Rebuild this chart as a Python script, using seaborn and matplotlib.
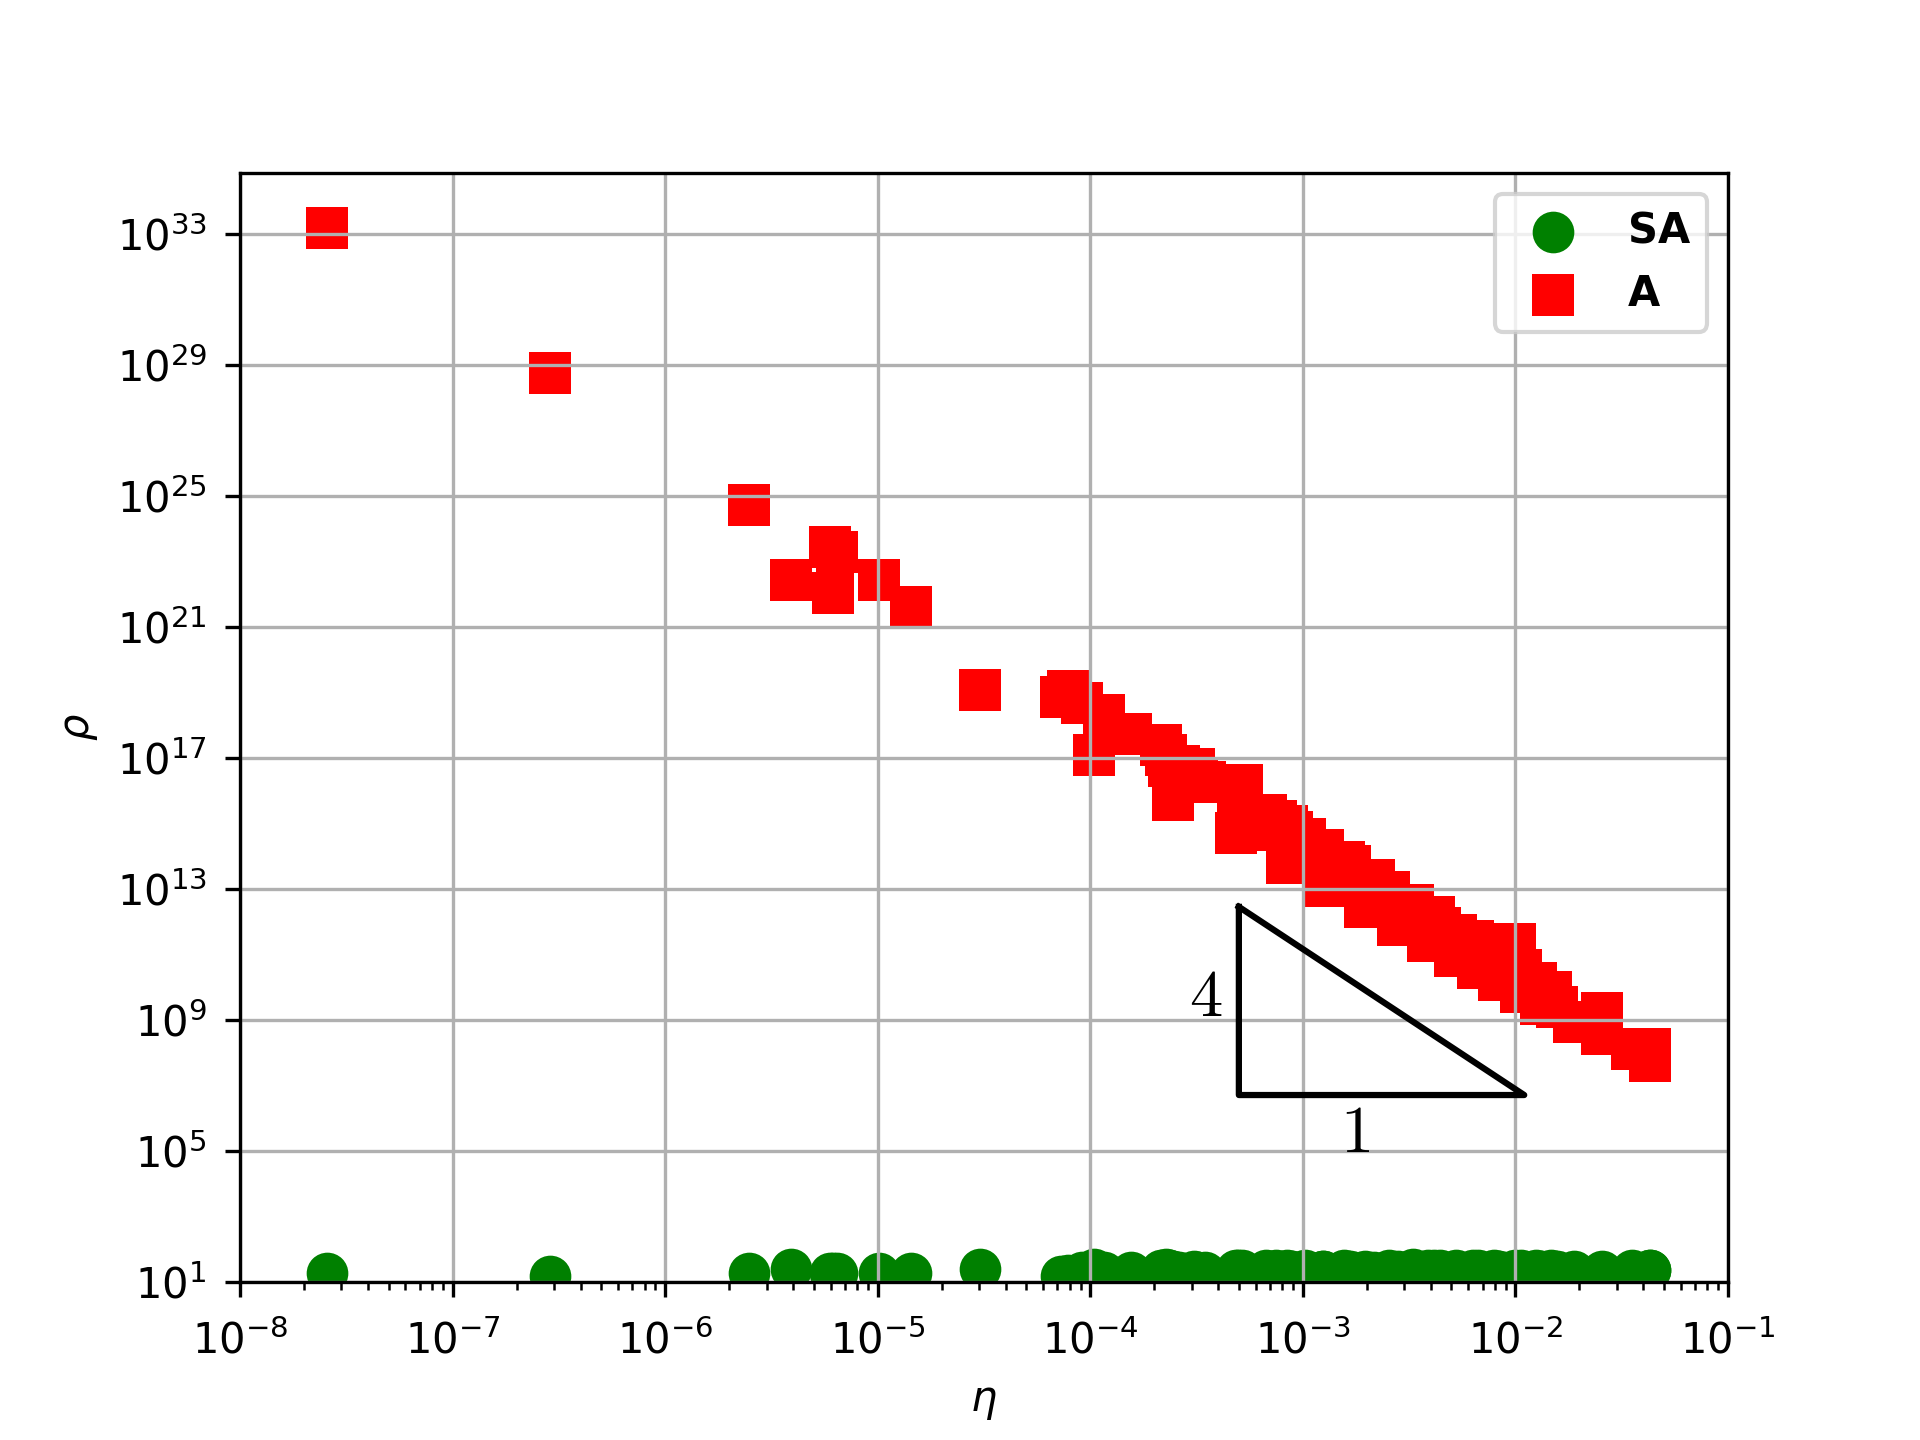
import matplotlib
matplotlib.use("Agg")
import matplotlib.pyplot as plt
import matplotlib.ticker as mticker
import seaborn as sns
import pandas as pd

# eta values (shared by both methods)
eta = [2.57e-8, 2.88e-7, 2.49e-6, 3.92e-6, 5.98e-6, 6.43e-6, 6.17e-6, 1.01e-5, 1.44e-5, 3.04e-5,
       7.31e-5, 7.87e-5, 9.16e-5, 1.04e-4, 1.16e-4, 1.55e-4, 2.14e-4, 2.28e-4, 2.34e-4, 2.45e-4,
       2.61e-4, 3.07e-4, 3.18e-4, 3.48e-4, 4.83e-4, 4.97e-4, 5.15e-4, 6.68e-4, 7.45e-4, 7.59e-4,
       8.39e-4, 8.39e-4, 8.93e-4, 1.02e-3, 1.24e-3, 1.25e-3, 1.56e-3, 1.66e-3, 1.95e-3, 2.15e-3,
       2.55e-3, 2.79e-3, 3.30e-3, 3.86e-3, 4.15e-3, 4.41e-3, 5.19e-3, 5.24e-3, 6.32e-3, 6.70e-3,
       7.94e-3, 8.39e-3, 9.97e-3, 1.06e-2, 1.06e-2, 1.25e-2, 1.32e-2, 1.47e-2, 1.57e-2, 1.89e-2,
       2.55e-2, 2.55e-2, 3.53e-2, 4.30e-2, 4.30e-2]

# rho for method A
rho_A = [1.55e33, 5.6e28, 5.3e24, 2.7e22, 2.8e23, 1.9e23, 1.1e22, 2.7e22, 4.1e21, 1.2e19,
         7.2e18, 1.1e19, 4.7e18, 1.26e17, 2.0e18, 5.5e17, 2.4e17, 1.26e17, 5.5e16, 5.3e15,
         5.5e16, 4.6e16, 2.3e16, 1.8e16, 5.0e14, 9.5e15, 1.5e16, 1.85e15, 1.15e15, 6.4e14,
         8.1e14, 6.1e13, 5.3e14, 3.2e14, 1.5e14, 1.2e13, 6.4e13, 4.8e13, 2.7e12, 1.8e13,
         7.7e12, 7.6e11, 3.3e12, 2.6e11, 1.4e12, 6.3e11, 8.9e10, 3.9e11, 2.6e11, 3.9e10,
         2.1e11, 1.65e10, 2.1e11, 3.2e10, 7.2e9, 1.35e10, 3.1e9, 7.2e9, 2.5e9, 8.3e8,
         1.65e9, 3.7e8, 1.3e8, 1.3e8, 5.5e7]

# rho for method SA
rho_SA = [18, 15, 18, 25, 18, 18, 18, 18, 18, 25,
          15, 16, 19, 24, 20, 20, 23, 24, 22, 21,
          20, 21, 20, 19, 23, 23, 22, 22, 23, 21,
          22, 21, 21, 22, 21, 21, 22, 21, 21, 20,
          22, 21, 24, 22, 23, 22, 21, 22, 23, 22,
          22, 21, 22, 22, 21, 22, 21, 22, 21, 21,
          21, 20, 23, 23, 22]

# slope triangle
tri_x = [5e-4, 5e-4, 1.1e-2, 5e-4]
tri_y = [2.8e12, 5e6, 5e6, 2.8e12]

df_sa = pd.DataFrame({"eta": eta, "rho": rho_SA})
df_a = pd.DataFrame({"eta": eta, "rho": rho_A})

fig, ax = plt.subplots(figsize=(6.4, 4.8), dpi=300)

sns.scatterplot(data=df_sa, x="eta", y="rho", ax=ax, color="green", marker="o",
                s=100, linewidth=0, label="SA")
sns.scatterplot(data=df_a, x="eta", y="rho", ax=ax, color="red", marker="s",
                s=100, linewidth=0, label="A")

ax.plot(tri_x, tri_y, color="black", linewidth=1.5)
ax.text(3.5e-4, 10**9.7, "$4$", math_fontfamily="cm", fontsize=16,
        ha="center", va="center")
ax.text(1.75e-3, 10**5.55, "$1$", math_fontfamily="cm", fontsize=16,
        ha="center", va="center")

ax.set_xscale("log")
ax.set_yscale("log")
ax.set_xlim(1e-8, 1e-1)
ax.set_ylim(10, 10**34.87)
ax.set_yticks([10.0**k for k in range(1, 34, 4)])
ax.yaxis.set_minor_locator(mticker.NullLocator())
ax.tick_params(axis="x", which="major", pad=5.8)
ax.tick_params(axis="y", which="major", pad=4.5)
ax.grid(True)

ax.set_xlabel(r"$\eta$")
ax.set_ylabel(r"$\rho$")
ax.legend(loc="upper right", prop={"weight": "bold"})

fig.savefig("out.png", dpi=300)
